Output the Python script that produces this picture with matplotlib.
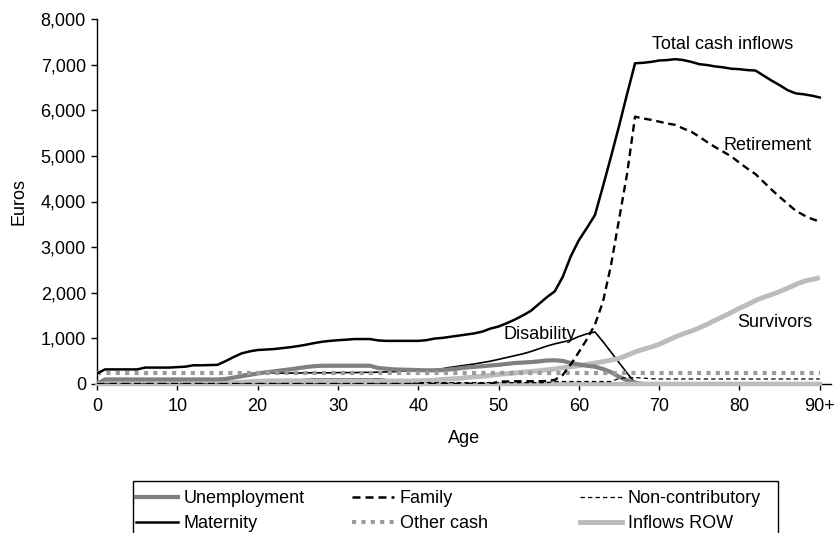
import matplotlib
matplotlib.use("Agg")
import matplotlib.pyplot as plt
from matplotlib.patches import Rectangle
from matplotlib.lines import Line2D
from matplotlib.ticker import FuncFormatter

plt.rcParams['font.family'] = ['Liberation Sans', 'DejaVu Sans']

ages = list(range(0, 91))

total = [230, 320, 320, 320, 320, 320, 360, 360, 360, 360,
         370, 380, 410, 410, 415, 420, 500, 590, 670, 715,
         745, 755, 765, 785, 805, 830, 860, 895, 925, 945,
         960, 970, 985, 985, 985, 955, 945, 945, 945, 945,
         945, 960, 995, 1010, 1035, 1060, 1085, 1110, 1150, 1215,
         1260, 1330, 1410, 1500, 1600, 1750, 1900, 2030, 2350, 2800,
         3150, 3420, 3700, 4330, 4980, 5650, 6350, 7030, 7040, 7060,
         7090, 7100, 7120, 7100, 7060, 7010, 6990, 6960, 6940, 6910,
         6900, 6880, 6870, 6760, 6650, 6550, 6440, 6370, 6350, 6320,
         6280]

retirement = [0] * 50 + [55, 55, 60, 60, 60, 60, 65, 90, 200, 430,
                         700, 980, 1300, 1800, 2600, 3600, 4600, 5860, 5820, 5790,
                         5750, 5710, 5680, 5600, 5530, 5420, 5300, 5190, 5090, 4985,
                         4850, 4720, 4600, 4430, 4260, 4100, 3950, 3800, 3700, 3620,
                         3560]

survivors = [20] * 16 + [25, 30, 40, 50,
                         60, 65, 70, 70, 70, 70, 70, 70, 70, 70,
                         70, 70, 70, 70, 70, 65, 65, 65, 65, 65,
                         70, 75, 85, 100, 110, 120, 140, 155, 170, 190,
                         210, 225, 240, 260, 275, 290, 310, 330, 355, 375,
                         400, 430, 460, 490, 525, 560, 630, 700, 760, 810,
                         870, 950, 1030, 1100, 1160, 1230, 1310, 1400, 1480, 1570,
                         1660, 1740, 1830, 1900, 1960, 2025, 2100, 2180, 2250, 2290,
                         2330]

disability = [0] * 16 + [90, 150, 200, 225,
                         235, 240, 240, 240, 240, 240, 245, 245, 245, 245,
                         250, 250, 250, 255, 255, 260, 265, 270, 280, 285,
                         290, 300, 310, 335, 365, 390, 415, 440, 470, 500,
                         540, 580, 620, 660, 710, 770, 830, 880, 920, 965,
                         1040, 1100, 1140, 930, 700, 470, 240, 30] + [0] * 23

unemployment = [0] + [100] * 15 + [110, 140, 170, 200,
                                   230, 255, 275, 300, 320, 345, 370, 390, 400, 400,
                                   400, 400, 400, 400, 400, 350, 335, 320, 315, 310,
                                   305, 300, 300, 305, 320, 340, 360, 375, 390, 405,
                                   420, 440, 460, 470, 480, 495, 515, 520, 505, 460,
                                   430, 400, 380, 330, 260, 160, 80, 30] + [0] * 23

maternity = [0] * 21 + [10, 30, 50, 65, 80, 90, 100, 100, 100,
                        100, 100, 100, 100, 100, 100, 85, 70, 55, 45,
                        40, 30, 20, 10] + [0] * 47

family = [0] * 91

other_cash = [250] * 91

non_contributory = [0] * 40 + [30] * 17 + [55] * 8 + [120, 140, 140, 130, 115] + [110] * 21

inflows_row = [0] * 91

x_ticks = [0, 10, 20, 30, 40, 50, 60, 70, 80, 90]
x_tick_labels = ['0', '10', '20', '30', '40', '50', '60', '70', '80', '90+']
y_ticks = [0, 1000, 2000, 3000, 4000, 5000, 6000, 7000, 8000]

W, H = 837, 533
fig = plt.figure(figsize=(W / 100, H / 100), dpi=100)
ax = fig.add_axes([97 / W, 1 - 384 / H, (831 - 97) / W, (384 - 19) / H])

c_unemp = '#808080'
c_light = '#bcbcbc'
c_other = '#9c9c9c'

ax.plot(ages, family, color='black', lw=1.6, dashes=(3.2, 2.0), zorder=1)
ax.plot(ages, maternity, color='black', lw=1.8, zorder=2)
ax.plot(ages, disability, color='black', lw=1.2, zorder=2.5)
ax.plot(ages, survivors, color=c_light, lw=3.5, zorder=3, solid_capstyle='butt')
ax.plot(ages, unemployment, color=c_unemp, lw=3.0, zorder=4)
ax.plot(ages, inflows_row, color=c_light, lw=3.2, zorder=4.5, clip_on=False,
        solid_capstyle='round')
ax.plot(ages, other_cash, color=c_other, lw=3.0, dashes=(1.0, 1.25), zorder=5)
ax.plot(ages, non_contributory, color='black', lw=0.9, dashes=(3.5, 2.5), zorder=6)
ax.plot(ages, retirement, color='black', lw=1.7, dashes=(3.2, 2.0), zorder=7)
ax.plot(ages, total, color='black', lw=1.8, zorder=8)

ax.set_xlim(0, 91.4)
ax.set_ylim(0, 8000)
ax.set_xticks(x_ticks)
ax.set_xticklabels(x_tick_labels)
ax.set_yticks(y_ticks)
ax.yaxis.set_major_formatter(FuncFormatter(lambda v, p: f'{int(v):,}'))
ax.spines['top'].set_visible(False)
ax.spines['right'].set_visible(False)
for s in ('left', 'bottom'):
    ax.spines[s].set_linewidth(1.0)
    ax.spines[s].set_zorder(0)
ax.tick_params(axis='both', direction='out', length=4, width=1, labelsize=13, colors='black')
ax.tick_params(axis='x', pad=6)
ax.tick_params(axis='y', pad=4)

ax.set_xlabel('Age', fontsize=13)
ax.xaxis.set_label_coords(0.5, -0.125)
ax.set_ylabel('Euros', fontsize=13)
ax.yaxis.set_label_coords(-0.095, 0.5)

ax.text(77.9, 7452, 'Total cash inflows', fontsize=13, ha='center', va='center')
ax.text(83.5, 5238, 'Retirement', fontsize=13, ha='center', va='center')
ax.text(84.4, 1337, 'Survivors', fontsize=13, ha='center', va='center')
ax.text(55.1, 1074, 'Disability', fontsize=13, ha='center', va='center', zorder=5)

# legend frame
fig.patches.append(Rectangle((133 / W, -0.05), (778 - 133) / W, 0.05 + 1 - 481 / H,
                             transform=fig.transFigure, fill=False, edgecolor='black', lw=1.0))

h_unemp = Line2D([], [], color=c_unemp, lw=3.0)
h_mat = Line2D([], [], color='black', lw=1.8)
h_fam = Line2D([], [], color='black', lw=1.8, dashes=(3.2, 2.0))
h_other = Line2D([], [], color=c_other, lw=3.0, dashes=(1.0, 1.25))
h_nonc = Line2D([], [], color='black', lw=0.9, dashes=(3.5, 2.5))
h_row = Line2D([], [], color=c_light, lw=3.5)

cols = [([h_unemp, h_mat], ['Unemployment', 'Maternity'], 136),
        ([h_fam, h_other], ['Family', 'Other cash'], 352),
        ([h_nonc, h_row], ['Non-contributory', 'Inflows ROW'], 580)]
for hs, ls, xpx in cols:
    leg = fig.legend(hs, ls, loc='upper left', bbox_to_anchor=(xpx / W, 1 - 490 / H),
                     frameon=False, fontsize=13, handlelength=2.3, handletextpad=0.35,
                     borderpad=0, borderaxespad=0, labelspacing=0.45)

fig.savefig('out.png', dpi=100)
